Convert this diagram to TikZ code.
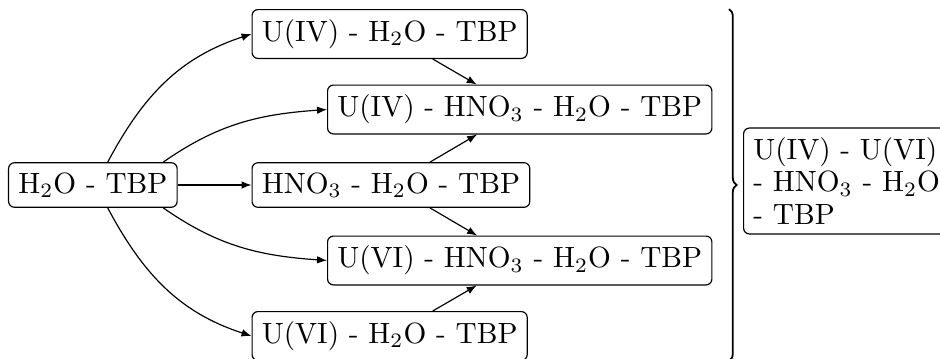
\documentclass[tikz,border=0pt]{standalone}
\usetikzlibrary{arrows.meta,decorations.pathreplacing}
\begin{document}
\begin{tikzpicture}[x=0.3413pt,y=-0.3413pt,
  box/.style={draw,rounded corners=2pt,anchor=west,inner sep=3.33pt,line width=0.4pt},
  arr/.style={-{Latex[length=3.4pt,width=2.6pt]},line width=0.4pt},
  bracestyle/.style={decorate,decoration={brace,amplitude=2.6pt},line width=0.6pt}]
\useasboundingbox (0,0) rectangle (940,358);
\node[box] (h2o) at (8,185) {H$_2$O - TBP};
\node[box] (u4) at (251.5,34) {U(IV) - H$_2$O - TBP};
\node[box] (u4h) at (327,109.5) {U(IV) - HNO$_3$ - H$_2$O - TBP};
\node[box] (hn) at (251.5,185) {HNO$_3$ - H$_2$O - TBP};
\node[box] (u6h) at (327,260.5) {U(VI) - HNO$_3$ - H$_2$O - TBP};
\node[box] (u6) at (251.5,336) {U(VI) - H$_2$O - TBP};
\node[box,align=left,text width=66pt] (all) at (743,181) {U(IV) - U(VI)\\[-1pt] - HNO$_3$ - H$_2$O\\[-1pt] - TBP};
\coordinate (btop) at (729,9);
\coordinate (bbot) at (729,361);
\draw[bracestyle] (btop) -- (bbot);
\draw[arr] (h2o.57) to[out=62,in=198] (u4.west);
\draw[arr] (h2o.18) to[out=35,in=184] (u4h.west);
\draw[arr] (h2o) -- (hn);
\draw[arr] (h2o.-18) to[out=-35,in=176] (u6h.west);
\draw[arr] (h2o.-57) to[out=-62,in=162] (u6.west);
\draw[arr] (u4) -- (u4h);
\draw[arr] (hn) -- (u4h);
\draw[arr] (hn) -- (u6h);
\draw[arr] (u6) -- (u6h);
\end{tikzpicture}
\end{document}
